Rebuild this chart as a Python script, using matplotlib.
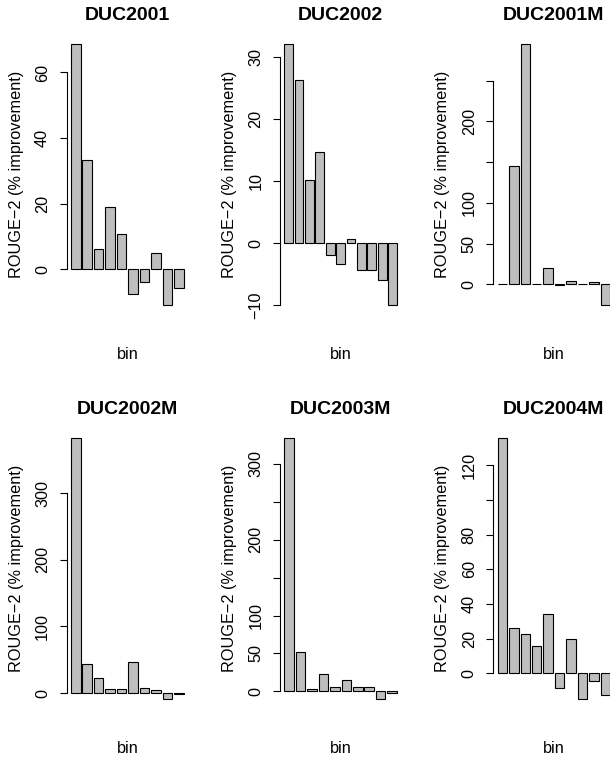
import numpy as np
import matplotlib.pyplot as plt

plt.rcParams['font.family'] = ['Liberation Sans', 'DejaVu Sans']

titles = ["DUC2001", "DUC2002", "DUC2001M", "DUC2002M", "DUC2003M", "DUC2004M"]

duc2001 = [68.7, 33.3, 6.1, 18.9, 10.8, -7.5, -3.8, 4.9, -10.9, -5.8]
duc2002 = [32.1, 26.3, 10.2, 14.6, -1.9, -3.3, 0.7, -4.3, -4.4, -6.0, -10.0]
duc2001m = [0, 145.7, 295, 0, 20, -0.5, 4.5, 0, 2.5, -25.4]
duc2002m = [383, 43.5, 22.5, 5.5, 6, 46.5, 7.5, 4, -9, -1]
duc2003m = [333.8, 51.8, 3, 22.8, 5.7, 15.4, 5.7, 5.7, -10, -2.5]
duc2004m = [135.8, 26, 22.5, 16, 34, -8.5, 20, -14.8, -4.2, -12.5]
series = [duc2001, duc2002, duc2001m, duc2002m, duc2003m, duc2004m]

yticks = [
    [0, 20, 40, 60],
    [-10, 0, 10, 20, 30],
    [0, 50, 100, 150, 200, 250],
    [0, 100, 200, 300],
    [0, 50, 100, 150, 200, 250, 300],
    [0, 20, 40, 60, 80, 100, 120],
]
ytick_labels = [
    ["0", "20", "40", "60"],
    ["\u221210", "0", "10", "20", "30"],
    ["0", "50", "100", "", "200", ""],
    ["0", "100", "200", "300"],
    ["0", "50", "100", "", "200", "", "300"],
    ["0", "20", "40", "60", "80", "", "120"],
]

W, H = 610, 758
fig = plt.figure(figsize=(W / 100, H / 100), dpi=100)

# plot-region layout in pixels (R style par(mfrow=c(2,3)))
left0, col_step = 66.5, 213.3
top0, row_step = 33.5, 394.0
pw, ph = 121.6, 282.0

for k in range(6):
    r, c = divmod(k, 3)
    x0 = left0 + c * col_step
    y0 = top0 + r * row_step
    ax = fig.add_axes([x0 / W, 1 - (y0 + ph) / H, pw / W, ph / H])
    vals = series[k]
    n = len(vals)
    xs = 0.7 + 1.2 * np.arange(n)
    ax.bar(xs, vals, width=1.0, color="#BEBEBE", edgecolor="black", linewidth=0.8)

    span = 1.2 * n - 0.2
    ax.set_xlim(0.2 - 0.04 * span, 1.2 * n + 0.04 * span)
    lo, hi = min(min(vals), 0), max(max(vals), 0)
    ax.set_ylim(lo - 0.04 * (hi - lo), hi + 0.04 * (hi - lo))

    for s in ["top", "right", "bottom"]:
        ax.spines[s].set_visible(False)
    ax.spines["left"].set_bounds(yticks[k][0], yticks[k][-1])
    ax.spines["left"].set_linewidth(0.8)
    ax.set_xticks([])
    ax.set_yticks(yticks[k])
    ax.set_yticklabels(ytick_labels[k], rotation=90, va="center", fontsize=11.7)
    ax.tick_params(axis="y", length=4.8, width=0.8, pad=7)

    ax.text(0.5, 1 + 18.5 / ph, titles[k], transform=ax.transAxes,
            ha="center", va="center", fontsize=14, fontweight="bold")
    ax.text(0.5, -39.0 / ph, "bin", transform=ax.transAxes,
            ha="center", va="center", fontsize=11.7)
    ax.text(-(x0 - 16 - c * col_step) / pw, 0.5, "ROUGE\u22122 (% improvement)",
            transform=ax.transAxes, rotation=90, ha="center", va="center",
            fontsize=11.7)
    ax.patch.set_visible(False)

fig.savefig("out.png", dpi=100)
